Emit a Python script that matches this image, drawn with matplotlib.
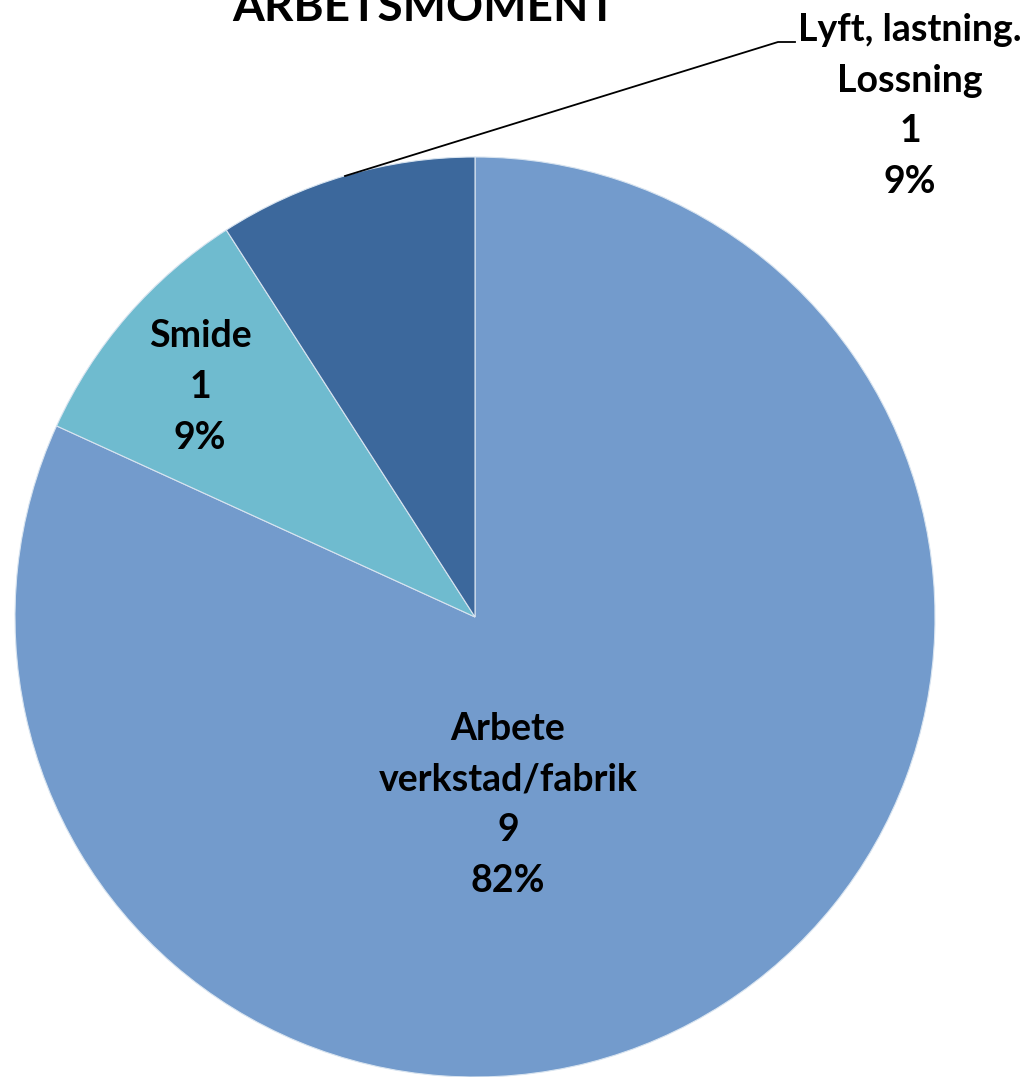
import matplotlib
matplotlib.use('Agg')
import matplotlib.pyplot as plt

# data
categories = ['Arbete\nverkstad/fabrik', 'Smide', 'Lyft, lastning.\nLossning']
values = [9, 1, 1]
colors = ['#739BCC', '#6FBBCF', '#3C689C']
title = 'ARBETSMOMENT'

plt.rcParams['font.family'] = ['Lato', 'DejaVu Sans']

fig = plt.figure(figsize=(10.28, 10.77), dpi=100)
# pie centre ~ (475, 617) px, radius ~460 px
ax = fig.add_axes([15 / 1028, 0 / 1077, 920 / 1028, 920 / 1077])

wedges, _ = ax.pie(values, colors=colors, startangle=90, counterclock=False,
                   radius=1, center=(0, 0),
                   wedgeprops=dict(edgecolor='#d8e4f0', linewidth=0.8))
ax.set_xlim(-1, 1)
ax.set_ylim(-1, 1)
ax.axis('off')

total = sum(values)
labels = [f"{c}\n{v}\n{round(100 * v / total)}%" for c, v in zip(categories, values)]

txt = dict(ha='center', va='center', fontsize=27, fontweight='bold',
           linespacing=1.6, color='black')

def px(x, y):
    # reference pixel -> data coords
    return ((x - 475) / 460, (617 - y) / 460)

ax.text(*px(508, 805), labels[0], **txt)
ax.text(*px(200, 387), labels[1], **txt)
ax.text(*px(910, 106), labels[2], clip_on=False, **txt)

# leader line for the small slice
lx, ly = zip(px(345, 176), px(778, 42), px(795, 42))
ax.plot(lx, ly, color='black', lw=1.3, clip_on=False)

fig.text(424 / 1028, 1 - 21 / 1077, title, ha='center', va='baseline',
         fontsize=33, fontweight='bold')

fig.savefig('out.png', dpi=100)
